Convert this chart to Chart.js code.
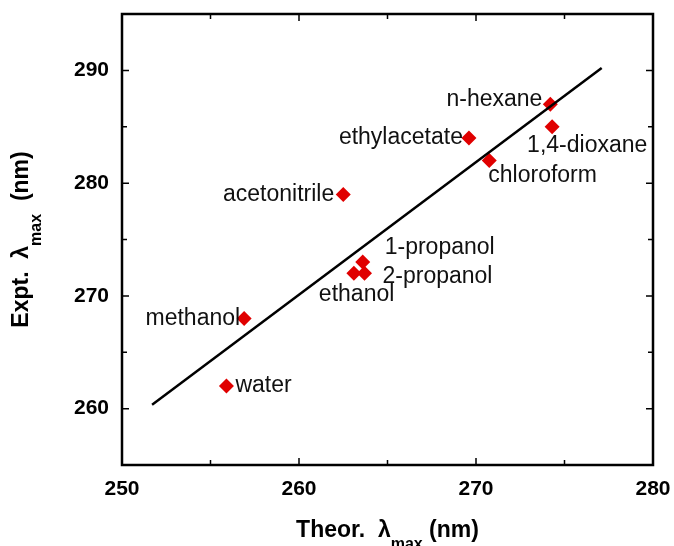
<!DOCTYPE html>
<html lang="en">
<head>
    <meta charset="UTF-8">
    <title>Expt. vs Theor. lambda max</title>
    <script src="https://cdn.jsdelivr.net/npm/chart.js"></script>
    <style>
        body { margin: 0; background: white; }
        .contenedor { width: 674px; height: 546px; position: relative; }
    </style>
</head>
<body>
    <div class="contenedor">
        <canvas id="grafico"></canvas>
    </div>

    <script>
        // solvent data
        const solvents = ['water', 'methanol', 'ethanol', '1-propanol', '2-propanol',
                          'acetonitrile', 'ethylacetate', 'chloroform', 'n-hexane', '1,4-dioxane'];
        const theorLambda = [255.9, 256.9, 263.1, 263.6, 263.7, 262.5, 269.6, 270.75, 274.2, 274.3];
        const exptLambda  = [262, 268, 272, 273, 272, 279, 284, 282, 287, 285];

        // fitted line end points
        const fitX = [251.7, 277.1];
        const fitY = [260.35, 290.2];

        const xTicks = [250, 260, 270, 280];
        const yTicks = [260, 270, 280, 290];
        const xMinorTicks = [255, 265, 275];
        const yMinorTicks = [265, 275, 285];

        // where each label sits relative to its marker: [align, dx, dy]
        const labelPlacement = {
            'water':        ['left', 9, 0],
            'methanol':     ['right', -4, 0],
            'ethanol':      ['left', -35, 21],
            '1-propanol':   ['left', 22, -14],
            '2-propanol':   ['left', 18, 3],
            'acetonitrile': ['right', -9, 0],
            'ethylacetate': ['right', -6, 0],
            'chloroform':   ['left', -1, 15],
            'n-hexane':     ['right', -8, -5],
            '1,4-dioxane':  ['left', -25, 19]
        };

        const puntos = solvents.map((s, i) => ({ x: theorLambda[i], y: exptLambda[i], name: s }));
        const linea = fitX.map((x, i) => ({ x: x, y: fitY[i] }));

        const etiquetas = {
            id: 'etiquetas',
            afterDatasetsDraw(chart) {
                const ctx = chart.ctx;
                const meta = chart.getDatasetMeta(1);
                ctx.save();
                ctx.font = '23px "Liberation Sans", Arial, sans-serif';
                ctx.fillStyle = '#111';
                ctx.textBaseline = 'middle';
                meta.data.forEach((p, i) => {
                    const pl = labelPlacement[solvents[i]];
                    ctx.textAlign = pl[0];
                    ctx.fillText(solvents[i], p.x + pl[1], p.y + pl[2]);
                });
                ctx.restore();
            }
        };

        const marco = {
            id: 'marco',
            afterDraw(chart) {
                const ctx = chart.ctx;
                const a = chart.chartArea;
                const xs = chart.scales.x, ys = chart.scales.y;
                ctx.save();
                ctx.strokeStyle = '#000';
                ctx.lineWidth = 2.5;
                ctx.strokeRect(a.left, a.top, a.right - a.left, a.bottom - a.top);

                ctx.lineWidth = 1.5;
                ctx.beginPath();
                const tick = (vals, len) => {
                    vals.forEach(v => {
                        const px = xs.getPixelForValue(v);
                        ctx.moveTo(px, a.bottom); ctx.lineTo(px, a.bottom - len);
                        ctx.moveTo(px, a.top); ctx.lineTo(px, a.top + len);
                    });
                };
                const tickY = (vals, len) => {
                    vals.forEach(v => {
                        const py = ys.getPixelForValue(v);
                        ctx.moveTo(a.left, py); ctx.lineTo(a.left + len, py);
                        ctx.moveTo(a.right, py); ctx.lineTo(a.right - len, py);
                    });
                };
                tick(xTicks, 7); tick(xMinorTicks, 5);
                tickY(yTicks, 7); tickY(yMinorTicks, 5);
                ctx.stroke();

                // axis titles with subscript
                const big = 'bold 23px "Liberation Sans", Arial, sans-serif';
                const small = 'bold 16px "Liberation Sans", Arial, sans-serif';
                const drawTitle = (parts, cx, cy, rot) => {
                    ctx.save();
                    ctx.translate(cx, cy);
                    ctx.rotate(rot);
                    ctx.fillStyle = '#000';
                    ctx.textAlign = 'left';
                    ctx.textBaseline = 'alphabetic';
                    let total = 0;
                    parts.forEach(p => { ctx.font = p[1]; total += ctx.measureText(p[0]).width; });
                    let x = -total / 2;
                    parts.forEach(p => {
                        ctx.font = p[1];
                        ctx.fillText(p[0], x, p[2]);
                        x += ctx.measureText(p[0]).width;
                    });
                    ctx.restore();
                };
                drawTitle([['Theor.  \u03bb', big, 0], ['max', small, 12], [' (nm)', big, 0]],
                          (a.left + a.right) / 2, 537, 0);
                drawTitle([['Expt.  \u03bb', big, 0], ['max', small, 13], ['  (nm)', big, 0]],
                          28, (a.top + a.bottom) / 2, -Math.PI / 2);
                ctx.restore();
            }
        };

        const tickFont = { family: '"Liberation Sans", Arial, sans-serif', size: 21, weight: 'bold' };

        new Chart(document.getElementById('grafico'), {
            type: 'scatter',
            data: {
                datasets: [
                    {
                        type: 'line',
                        data: linea,
                        borderColor: '#000',
                        borderWidth: 2.5,
                        pointRadius: 0,
                        fill: false
                    },
                    {
                        data: puntos,
                        pointStyle: 'rectRot',
                        pointRadius: 7.5,
                        backgroundColor: '#e00000',
                        borderWidth: 0
                    }
                ]
            },
            options: {
                responsive: true,
                maintainAspectRatio: false,
                animation: false,
                layout: { padding: { top: 14, right: 21, left: 0, bottom: 0 } },
                plugins: { legend: { display: false }, tooltip: { enabled: false } },
                scales: {
                    x: {
                        type: 'linear', min: 250, max: 280,
                        grid: { display: false, drawTicks: false },
                        border: { display: false },
                        afterBuildTicks: s => { s.ticks = xTicks.map(v => ({ value: v })); },
                        afterFit: s => { s.height = 81; s.paddingLeft = 0; s.paddingRight = 0; },
                        ticks: { font: tickFont, color: '#000', padding: 12, maxRotation: 0 }
                    },
                    y: {
                        type: 'linear', min: 255, max: 295,
                        grid: { display: false, drawTicks: false },
                        border: { display: false },
                        afterBuildTicks: s => { s.ticks = yTicks.map(v => ({ value: v })); },
                        afterFit: s => { s.width = 122; s.paddingTop = 0; s.paddingBottom = 0; },
                        ticks: { font: tickFont, color: '#000', padding: 13 }
                    }
                }
            },
            plugins: [etiquetas, marco]
        });
    </script>
</body>
</html>
